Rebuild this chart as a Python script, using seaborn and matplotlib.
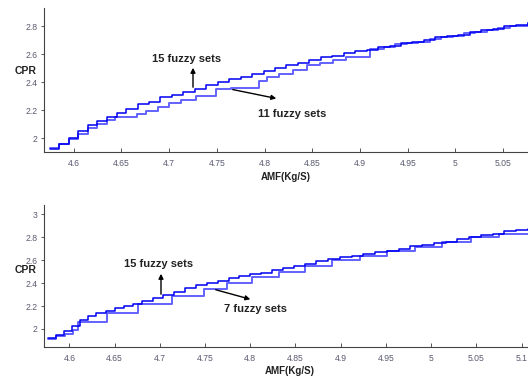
import matplotlib
matplotlib.use("Agg")
import matplotlib.pyplot as plt
import seaborn as sns
import pandas as pd

# ---------------- data ----------------
# Top panel: 15 fuzzy sets vs 11 fuzzy sets
top_x15 = [4.575, 4.585, 4.595, 4.605, 4.615, 4.625, 4.635, 4.645, 4.655, 4.667,
           4.679, 4.691, 4.703, 4.715, 4.727, 4.739, 4.751, 4.763, 4.775, 4.787,
           4.799, 4.811, 4.823, 4.835, 4.847, 4.859, 4.871, 4.883, 4.895, 4.907,
           4.919, 4.931, 4.943, 4.955, 4.967, 4.979, 4.991, 5.003, 5.015, 5.027,
           5.039, 5.051, 5.063, 5.076]
top_y15 = [1.92, 1.96, 2.00, 2.05, 2.09, 2.12, 2.15, 2.18, 2.21, 2.24,
           2.26, 2.29, 2.31, 2.33, 2.35, 2.38, 2.40, 2.42, 2.44, 2.46,
           2.48, 2.50, 2.52, 2.54, 2.56, 2.58, 2.59, 2.61, 2.62, 2.63,
           2.65, 2.66, 2.68, 2.69, 2.70, 2.72, 2.73, 2.74, 2.76, 2.77,
           2.78, 2.80, 2.81, 2.82]
top_x11 = [4.575, 4.585, 4.595, 4.605, 4.615, 4.625, 4.635, 4.643, 4.666, 4.676,
           4.688, 4.700, 4.712, 4.728, 4.749, 4.765, 4.794, 4.803, 4.815, 4.830,
           4.844, 4.858, 4.872, 4.885, 4.911, 4.925, 4.937, 4.949, 4.961, 4.973,
           4.985, 4.997, 5.009, 5.021, 5.033, 5.045, 5.057, 5.076]
top_y11 = [1.93, 1.96, 1.99, 2.03, 2.07, 2.10, 2.13, 2.15, 2.17, 2.19,
           2.22, 2.25, 2.27, 2.30, 2.35, 2.36, 2.41, 2.44, 2.46, 2.49,
           2.52, 2.54, 2.56, 2.58, 2.64, 2.65, 2.67, 2.68, 2.69, 2.71,
           2.72, 2.73, 2.75, 2.76, 2.77, 2.79, 2.80, 2.82]

# Bottom panel: 15 fuzzy sets vs 7 fuzzy sets
bot_x15 = [4.576, 4.585, 4.594, 4.603, 4.612, 4.621, 4.630, 4.640, 4.650, 4.660,
           4.670, 4.680, 4.692, 4.704, 4.716, 4.728, 4.740, 4.752, 4.764, 4.776,
           4.788, 4.800, 4.812, 4.824, 4.836, 4.848, 4.860, 4.873, 4.886, 4.899,
           4.912, 4.925, 4.938, 4.951, 4.964, 4.977, 4.990, 5.003, 5.016, 5.029,
           5.042, 5.055, 5.068, 5.081, 5.094, 5.107]
bot_y15 = [1.92, 1.95, 1.98, 2.03, 2.08, 2.11, 2.14, 2.16, 2.18, 2.20,
           2.22, 2.24, 2.27, 2.30, 2.32, 2.36, 2.38, 2.40, 2.42, 2.44,
           2.46, 2.48, 2.49, 2.51, 2.53, 2.55, 2.57, 2.59, 2.61, 2.63,
           2.64, 2.65, 2.67, 2.68, 2.70, 2.72, 2.73, 2.75, 2.76, 2.78,
           2.80, 2.82, 2.83, 2.85, 2.86, 2.87]
bot_x7 = [4.576, 4.585, 4.595, 4.604, 4.610, 4.642, 4.676, 4.713, 4.749, 4.774,
          4.802, 4.832, 4.860, 4.890, 4.921, 4.951, 4.982, 5.012, 5.044, 5.075,
          5.107]
bot_y7 = [1.91, 1.94, 1.96, 1.99, 2.06, 2.14, 2.22, 2.29, 2.35, 2.40,
          2.45, 2.50, 2.55, 2.60, 2.64, 2.68, 2.71, 2.76, 2.80, 2.83,
          2.83]

top_xticks = [4.6, 4.65, 4.7, 4.75, 4.8, 4.85, 4.9, 4.95, 5.0, 5.05]
top_xlabels = ["4.6", "4.65", "4.7", "4.75", "4.8", "4.85", "4.9", "4.95", "5", "5.05"]
top_yticks = [2.0, 2.2, 2.4, 2.6, 2.8]
top_ylabels = ["2", "2.2", "2.4", "2.6", "2.8"]
bot_xticks = [4.6, 4.65, 4.7, 4.75, 4.8, 4.85, 4.9, 4.95, 5.0, 5.05, 5.1]
bot_xlabels = ["4.6", "4.65", "4.7", "4.75", "4.8", "4.85", "4.9", "4.95", "5", "5.05", "5.1"]
bot_yticks = [2.0, 2.2, 2.4, 2.6, 2.8, 3.0]
bot_ylabels = ["2", "2.2", "2.4", "2.6", "2.8", "3"]

# ---------------- style ----------------
sns.set_style("ticks")
plt.rcParams['font.family'] = ['Liberation Sans', 'DejaVu Sans']

W, H = 528, 381
fig = plt.figure(figsize=(W / 100, H / 100), dpi=100)
fig.patch.set_facecolor("white")

def frac(px, py):
    return (px / W, 1 - py / H)

def box(l, t, r, b):
    return [l / W, 1 - b / H, (r - l) / W, (b - t) / H]

ax1 = fig.add_axes(box(44, 8, 528, 152))
ax2 = fig.add_axes(box(44, 205, 528, 347))

DARK = "#0000f0"
LIGHT = "#6262ff"

def draw(ax, xa, ya, xb, yb):
    d1 = pd.DataFrame({"x": xa, "y": ya})
    d2 = pd.DataFrame({"x": xb, "y": yb})
    sns.lineplot(data=d2, x="x", y="y", ax=ax, color=LIGHT, lw=1.4,
                 drawstyle="steps-post", estimator=None, sort=False)
    sns.lineplot(data=d1, x="x", y="y", ax=ax, color=DARK, lw=1.1,
                 drawstyle="steps-post", estimator=None, sort=False)

draw(ax1, top_x15, top_y15, top_x11, top_y11)
draw(ax2, bot_x15, bot_y15, bot_x7, bot_y7)

ax1.set_xlim(4.569, 5.076)
ax1.set_ylim(1.90, 2.93)
ax2.set_xlim(4.572, 5.107)
ax2.set_ylim(1.843, 3.08)

for ax, xt, xl, yt, yl in [(ax1, top_xticks, top_xlabels, top_yticks, top_ylabels),
                           (ax2, bot_xticks, bot_xlabels, bot_yticks, bot_ylabels)]:
    ax.set_xticks(xt)
    ax.set_xticklabels(xl)
    ax.set_yticks(yt)
    ax.set_yticklabels(yl)
    ax.set_xlabel("")
    ax.set_ylabel("")
    ax.tick_params(axis="x", direction="in", length=3, width=0.7, pad=5,
                   labelsize=6.2, labelcolor="#5a5a70", color="#555555")
    ax.tick_params(axis="y", direction="out", length=2.5, width=0.7, pad=2,
                   labelsize=6.2, labelcolor="#5a5a70", color="#555555")
    for s in ["top", "right"]:
        ax.spines[s].set_visible(False)
    for s in ["left", "bottom"]:
        ax.spines[s].set_color("#444444")
        ax.spines[s].set_linewidth(0.8)
    ax.set_facecolor("white")

def label(text, px, py, size=7):
    fig.text(*frac(px, py), text, ha="center", va="center",
             fontsize=size, fontweight="bold", color="#222222")

def arrow(p0, p1):
    fig.add_artist(matplotlib.patches.FancyArrowPatch(
        frac(*p0), frac(*p1), transform=fig.transFigure,
        arrowstyle="-|>", mutation_scale=7, lw=1.0, color="black"))

label("CPR", 26, 71, 7.5)
label("CPR", 26, 270, 7.5)
label("AMF(Kg/S)", 286, 177, 7)
label("AMF(Kg/S)", 290, 371, 7)

label("15 fuzzy sets", 187, 59, 8)
arrow((193, 90), (193, 65))
label("11 fuzzy sets", 292, 114, 8)
arrow((230, 89), (279, 99))

label("15 fuzzy sets", 159, 264, 8)
arrow((161, 297), (161, 271))
label("7 fuzzy sets", 256, 309, 8)
arrow((213, 289), (253, 300))

fig.savefig("out.png", dpi=100, facecolor="white")
